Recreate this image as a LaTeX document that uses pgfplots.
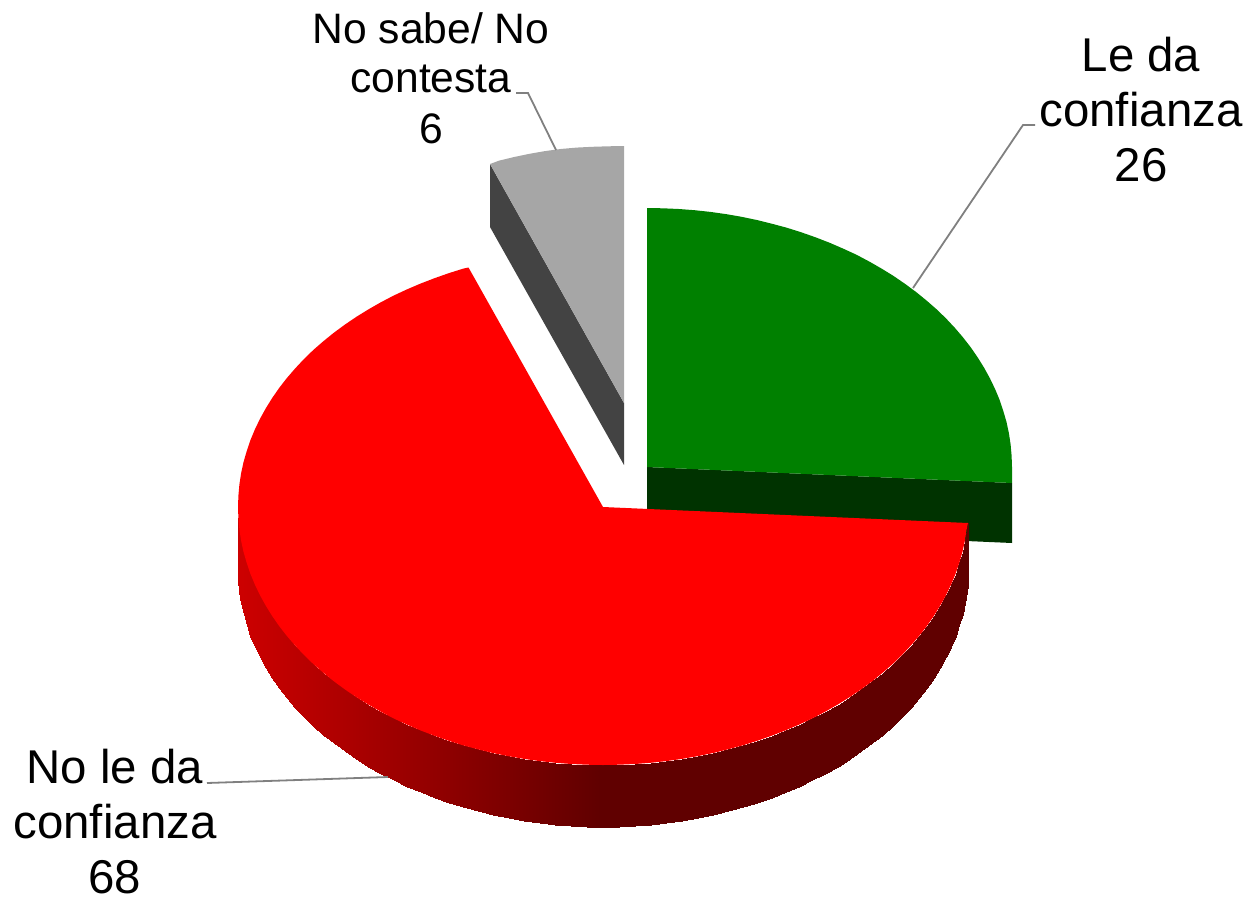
\documentclass[border=0pt]{standalone}
\usepackage{pgfplots}
\pgfplotsset{compat=1.18}
\usepackage{fontspec}
\setmainfont{Liberation Sans}
\definecolor{pieRed}{RGB}{255,0,0}
\definecolor{pieGreen}{RGB}{0,128,0}
\definecolor{pieGreenDark}{RGB}{0,51,0}
\definecolor{pieGrey}{RGB}{166,166,166}
\definecolor{pieGreyDark}{RGB}{67,67,67}
\definecolor{leader}{RGB}{128,128,128}
\begin{document}
\begin{tikzpicture}
\begin{axis}[
  scale only axis, width=1250pt, height=900pt,
  xmin=0, xmax=1250, ymin=0, ymax=900,
  y dir=reverse, hide axis, clip=false,
  colormap={wall}{rgb255(0pt)=(205,0,0); rgb255(362pt)=(96,0,0); rgb255(730pt)=(96,0,0)},
  point meta min=238, point meta max=968,
]
% page frame: keeps the picture at the reference's full extent
\path (axis cs:0,0) rectangle (axis cs:1250,900);
% Le da confianza: wall and top
\addplot[draw=none, fill=pieGreenDark] coordinates {(647,467) (1012,483) (1012,543) (647,527)} -- cycle;
\addplot[draw=none, fill=pieGreen] coordinates {(647,467) (647,208) (662.9,208.3) (678.8,209) (694.6,210.2) (710.4,211.9) (726,214.1) (741.5,216.8) (756.8,220) (771.8,223.7) (786.7,227.7) (801.3,232.3) (815.5,237.3) (829.5,242.7) (843.1,248.6) (856.6,254.8) (869.2,261.5) (881.6,268.6) (893.6,276) (905.1,283.9) (916.1,292) (926.6,300.6) (936.6,309.3) (946,318.4) (954.8,327.8) (963.1,337.5) (970.8,347.4) (977.8,357.6) (984.2,367.9) (990,378.5) (995.1,389.1) (999.6,399.9) (1003.3,411) (1006.5,422) (1008.9,433.2) (1010.6,444.4) (1011.6,455.7) (1012,467) (1012,483)} -- cycle;
% No sabe / No contesta
\addplot[draw=none, fill=pieGreyDark] coordinates {(490,164) (624,403) (624,465) (490,227)} -- cycle;
\addplot[draw=none, fill=pieGrey] coordinates {(624,403) (624,146) (608.1,146.3) (592.2,146.8) (576.4,147.6) (560.6,149) (545,151.1) (529.5,153.8) (514.2,157) (499.2,160.6) (490,164)} -- cycle;
% No le da confianza: curved wall
\addplot[surf, shader=interp, mesh/cols=72, point meta=x] coordinates {
(238,507) (238.4,518.2) (239.4,529.5) (241.1,540.7) (243.5,551.8) (246.7,562.8) (250.4,573.8) (254.9,584.6) (260,595.2) (265.8,605.7) (272.2,616) (279.2,626.1) (286.9,636) (295.2,645.6) (304,655) (313.4,664.1) (323.4,672.8) (333.9,681.3) (344.9,689.4) (356.4,697.2) (368.4,704.6) (380.8,711.7) (393.6,718.4) (406.9,724.6) (420.5,730.4) (434.5,735.8) (448.7,740.8) (463.3,745.4) (478.2,749.4) (493.2,753.1) (508.5,756.2) (524,758.9) (539.6,761.1) (555.4,762.8) (571.2,764) (587.1,764.7) (603,765) (618.9,764.7) (634.8,764) (650.6,762.8) (666.4,761.1) (682,758.9) (697.5,756.2) (712.8,753.1) (727.8,749.4) (742.7,745.4) (757.3,740.8) (771.5,735.8) (785.5,730.4) (799.1,724.6) (812.4,718.4) (825.2,711.7) (837.6,704.6) (849.6,697.2) (861.1,689.4) (872.1,681.3) (882.6,672.8) (892.6,664.1) (902,655) (910.8,645.6) (919.1,636) (926.8,626.1) (933.8,616) (940.2,605.7) (946,595.2) (951.1,584.6) (955.6,573.8) (959.3,562.8) (962.5,551.8) (964.9,540.7) (966.6,529.5) (968,523)

(238,569) (238.4,580.2) (239.4,591.5) (241.1,602.7) (243.5,613.8) (246.7,624.8) (250.4,635.8) (254.9,646.6) (260,657.2) (265.8,667.7) (272.2,678) (279.2,688.1) (286.9,698) (295.2,707.6) (304,717) (313.4,726.1) (323.4,734.8) (333.9,743.3) (344.9,751.4) (356.4,759.2) (368.4,766.6) (380.8,773.7) (393.6,780.4) (406.9,786.6) (420.5,792.4) (434.5,797.8) (448.7,802.8) (463.3,807.4) (478.2,811.4) (493.2,815.1) (508.5,818.2) (524,820.9) (539.6,823.1) (555.4,824.8) (571.2,826) (587.1,826.7) (603,827) (618.9,826.7) (634.8,826) (650.6,824.8) (666.4,823.1) (682,820.9) (697.5,818.2) (712.8,815.1) (727.8,811.4) (742.7,807.4) (757.3,802.8) (771.5,797.8) (785.5,792.4) (799.1,786.6) (812.4,780.4) (825.2,773.7) (837.6,766.6) (849.6,759.2) (861.1,751.4) (872.1,743.3) (882.6,734.8) (892.6,726.1) (902,717) (910.8,707.6) (919.1,698) (926.8,688.1) (933.8,678) (940.2,667.7) (946,657.2) (951.1,646.6) (955.6,635.8) (959.3,624.8) (962.5,613.8) (964.9,602.7) (966.6,591.5) (968,585)
};
% top
\addplot[draw=none, fill=pieRed] coordinates {(603,507) (968,523) (966.6,529.5) (964.9,540.7) (962.5,551.8) (959.3,562.8) (955.6,573.8) (951.1,584.6) (946,595.2) (940.2,605.7) (933.8,616) (926.8,626.1) (919.1,636) (910.8,645.6) (902,655) (892.6,664.1) (882.6,672.8) (872.1,681.3) (861.1,689.4) (849.6,697.2) (837.6,704.6) (825.2,711.7) (812.4,718.4) (799.1,724.6) (785.5,730.4) (771.5,735.8) (757.3,740.8) (742.7,745.4) (727.8,749.4) (712.8,753.1) (697.5,756.2) (682,758.9) (666.4,761.1) (650.6,762.8) (634.8,764) (618.9,764.7) (603,765) (587.1,764.7) (571.2,764) (555.4,762.8) (539.6,761.1) (524,758.9) (508.5,756.2) (493.2,753.1) (478.2,749.4) (463.3,745.4) (448.7,740.8) (434.5,735.8) (420.5,730.4) (406.9,724.6) (393.6,718.4) (380.8,711.7) (368.4,704.6) (356.4,697.2) (344.9,689.4) (333.9,681.3) (323.4,672.8) (313.4,664.1) (304,655) (295.2,645.6) (286.9,636) (279.2,626.1) (272.2,616) (265.8,605.7) (260,595.2) (254.9,584.6) (250.4,573.8) (246.7,562.8) (243.5,551.8) (241.1,540.7) (239.4,529.5) (238.4,518.2) (238,507) (238.4,495.8) (239.4,484.5) (241.1,473.3) (243.5,462.2) (246.7,451.2) (250.4,440.2) (254.9,429.4) (260,418.8) (265.8,408.3) (272.2,398) (279.2,387.9) (286.9,378) (295.2,368.4) (304,359) (313.4,349.9) (323.4,341.2) (333.9,332.7) (344.9,324.6) (356.4,316.8) (368.4,309.4) (380.8,302.3) (393.6,295.6) (406.9,289.4) (420.5,283.6) (434.5,278.2) (448.7,273.2) (463.3,268.6) (468.5,267.5)} -- cycle;
% leader lines
\addplot[leader, line width=1.8pt] coordinates {(1035,125) (1023,125) (913,288)};
\addplot[leader, line width=1.8pt] coordinates {(516,93) (528,93) (556,150)};
\addplot[leader, line width=1.8pt] coordinates {(207,783) (388,777)};
% labels
\begin{scope}[every node/.style={anchor=base, inner sep=0pt}]
\node[font=\fontsize{47.4}{55}\selectfont] at (axis cs:1141,71) {Le da};
\node[font=\fontsize{47.4}{55}\selectfont] at (axis cs:1141,126) {confianza};
\node[font=\fontsize{47.4}{55}\selectfont] at (axis cs:1141,181) {26};
\node[font=\fontsize{42.6}{49}\selectfont] at (axis cs:431,43.5) {No sabe/ No};
\node[font=\fontsize{42.6}{49}\selectfont] at (axis cs:431,92.5) {contesta};
\node[font=\fontsize{42.6}{49}\selectfont] at (axis cs:431,143) {6};
\node[font=\fontsize{47.4}{55}\selectfont] at (axis cs:115,783) {No le da};
\node[font=\fontsize{47.4}{55}\selectfont] at (axis cs:115,838) {confianza};
\node[font=\fontsize{47.4}{55}\selectfont] at (axis cs:115,893) {68};
\end{scope}
\end{axis}
\end{tikzpicture}
\end{document}
